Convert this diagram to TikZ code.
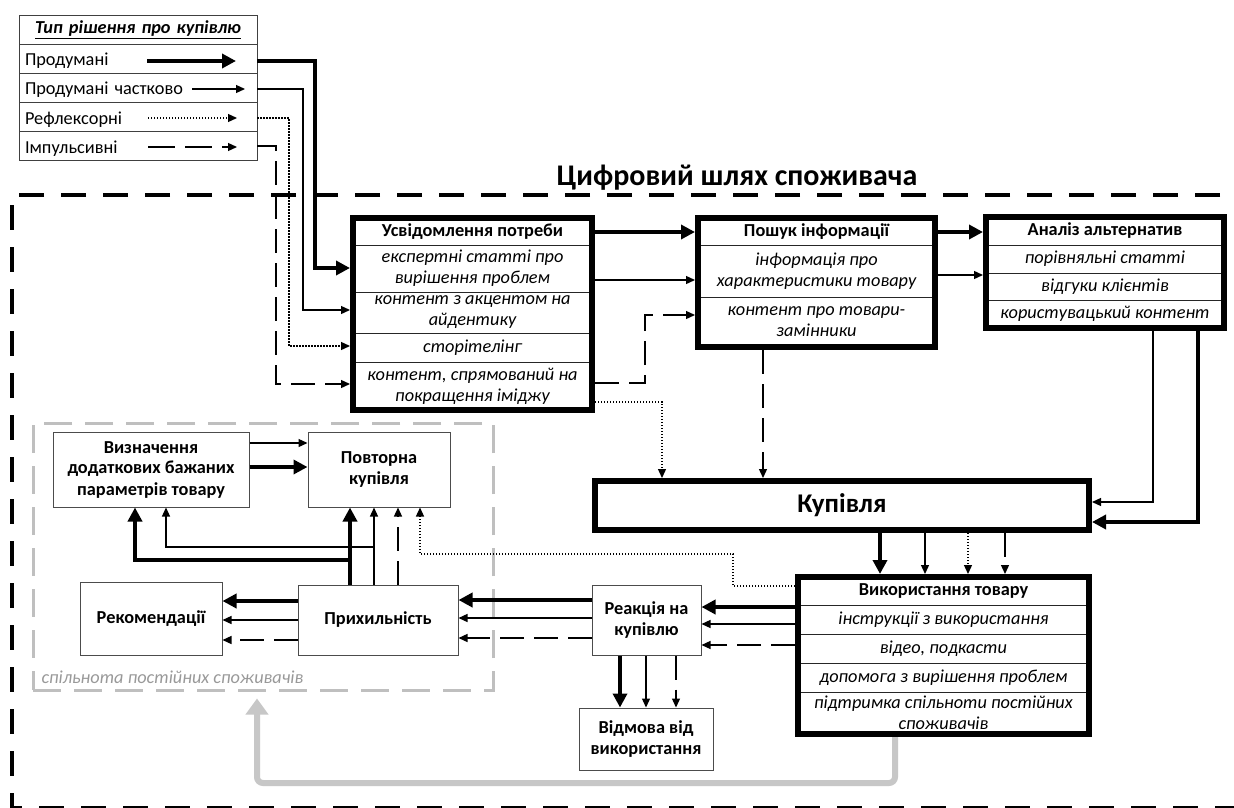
\documentclass[tikz,border=0pt]{standalone}
\usepackage{fontspec}
\setmainfont{Carlito}
\usetikzlibrary{arrows.meta}
\newcommand{\fsz}{\fontsize{18.3}{21}\selectfont}
\begin{document}
\begin{tikzpicture}[x=1pt,y=-1pt,
  rowb/.style={draw=black!85, line width=0.8pt, inner sep=0pt, align=center, font=\fsz\itshape},
  hdr/.style={rowb, font=\fsz\bfseries},
  bigbox/.style={draw, line width=6pt, inner sep=0pt},
  lbox/.style={draw=black!70, line width=1pt, inner sep=0pt, align=center, font=\fsz\bfseries},
  legrow/.style={draw=black!75, line width=0.8pt, inner sep=0pt, minimum width=238pt, minimum height=29pt, text width=226pt, align=left, font=\fsz},
  legtxt/.style={legrow, text height=17pt, text depth=2pt},
  thk/.style={line width=4pt, -{Triangle[length=14pt,width=14pt]}},
  thn/.style={line width=1.3pt, -{Triangle[length=9pt,width=8pt]}},
  dsh/.style={thn, dash pattern=on 24pt off 10pt},
  dtt/.style={thn, dash pattern=on 1.3pt off 1.7pt},
]
\useasboundingbox (0,0) rectangle (1234,808);
\fill[white] (0,0) rectangle (1234,808);
\clip (0,0) rectangle (1234,808);

% outer frame and title
\draw[line width=4pt, dash pattern=on 25pt off 17pt] (1262,195) -- (12,195) -- (12,808) -- (1262,808);
\node[font=\fontsize{30}{35}\selectfont\bfseries] (title) at (737,178) {Цифровий шлях споживача};

% community region
\node[draw=black!25, line width=3pt, dash pattern=on 28pt off 13pt, minimum width=460pt, minimum height=267pt, inner sep=0pt] (spil) at (263,556.5) {};
\node[anchor=west, font=\fsz\itshape, text=black!40] (spl) at (38,677) {спільнота постійних споживачів};

% legend
\node[legrow, align=center, font=\fsz\bfseries\itshape] (legT) at (138,29.5) {\underline{Тип рішення про купівлю}};
\node[legtxt] (leg1) at (138,58.5) {Продумані};
\node[legtxt] (leg2) at (138,87.5) {Продумані частково};
\node[legtxt] (leg3) at (138,116.5) {Рефлексорні};
\node[legtxt] (leg4) at (138,145.5) {Імпульсивні};
\draw[thk] (147,61) -- (236,61);
\draw[thn] (192,89) -- (245,89);
\draw[dtt] (148,118) -- (237,118);
\draw[dsh, dash pattern=on 27pt off 10pt] (148,147) -- (237,147);

% Усвідомлення потреби
\node[hdr, minimum width=239pt, minimum height=27pt] (u0) at (472.5,231.5) {Усвідомлення потреби};
\node[rowb, minimum width=239pt, minimum height=47pt] (u1) at (472.5,268.5) {експертні статті про\\вирішення проблем};
\node[rowb, minimum width=239pt, minimum height=41pt] (u2) at (472.5,312.5) {контент з акцентом на\\айдентику};
\node[rowb, minimum width=239pt, minimum height=29pt] (u3) at (472.5,347.5) {сторітелінг};
\node[rowb, minimum width=239pt, minimum height=48pt] (u4) at (472.5,386) {контент, спрямований на\\покращення іміджу};
\node[bigbox, minimum width=239pt, minimum height=192pt] (usv) at (472.5,314) {};

% Пошук інформації
\node[hdr, minimum width=237pt, minimum height=27pt] (p0) at (816.5,231.5) {Пошук інформації};
\node[rowb, minimum width=237pt, minimum height=52pt] (p1) at (816.5,271) {інформація про\\характеристики товару};
\node[rowb, minimum width=237pt, minimum height=50pt] (p2) at (816.5,322) {контент про товари-\\замінники};
\node[bigbox, minimum width=237pt, minimum height=129pt] (posh) at (816.5,282.5) {};

% Аналіз альтернатив
\node[hdr, minimum width=238pt, minimum height=28pt] (a0) at (1105,231) {Аналіз альтернатив};
\node[rowb, minimum width=238pt, minimum height=28pt] (a1) at (1105,259) {порівняльні статті};
\node[rowb, minimum width=238pt, minimum height=27pt] (a2) at (1105,286.5) {відгуки клієнтів};
\node[rowb, minimum width=238pt, minimum height=28pt] (a3) at (1105,314) {користувацький контент};
\node[bigbox, minimum width=238pt, minimum height=111pt] (anal) at (1105,272.5) {};

% Купівля
\node[bigbox, minimum width=494pt, minimum height=49pt, font=\fontsize{27}{31}\selectfont\bfseries] (kup) at (842,505.5) {Купівля};

% Використання товару
\node[hdr, minimum width=291pt, minimum height=28pt] (v0) at (943.5,591) {Використання товару};
\node[rowb, minimum width=291pt, minimum height=29pt] (v1) at (943.5,619.5) {інструкції з використання};
\node[rowb, minimum width=291pt, minimum height=29pt] (v2) at (943.5,648.5) {відео, подкасти};
\node[rowb, minimum width=291pt, minimum height=29pt] (v3) at (943.5,677.5) {допомога з вирішення проблем};
\node[rowb, minimum width=291pt, minimum height=42pt] (v4) at (943.5,713) {підтримка спільноти постійних\\споживачів};
\node[bigbox, minimum width=291pt, minimum height=157pt] (vyk) at (943.5,655.5) {};

% lower boxes
\node[lbox, minimum width=196pt, minimum height=75pt] (vyz) at (151,469.5) {Визначення\\додаткових бажаних\\параметрів товару};
\node[lbox, minimum width=142pt, minimum height=75pt] (povt) at (379,469.5) {Повторна\\купівля};
\node[lbox, minimum width=142pt, minimum height=73pt] (rek) at (151,618.5) {Рекомендації};
\node[lbox, minimum width=160pt, minimum height=70pt] (pryh) at (378,620) {Прихильність};
\node[lbox, minimum width=109pt, minimum height=70pt] (reak) at (646.5,620) {Реакція на\\купівлю};
\node[lbox, minimum width=134pt, minimum height=62pt] (vidm) at (646,739) {Відмова від\\використання};

% legend connectors
\draw[thk] (leg1.east |- 0,61) -| (315,268) -- (usv.west |- 0,268);
\draw[thn] (leg2.east |- 0,89) -| (303,310) -- (usv.west |- 0,310);
\draw[dtt] (leg3.east |- 0,118) -| (289,346) -- (usv.west |- 0,346);
\draw[dsh] (leg4.east |- 0,146) -| (276,384) -- (usv.west |- 0,384);

% Усвідомлення -> Пошук / Купівля
\draw[thk] (usv.east |- 0,232) -- (posh.west |- 0,232);
\draw[thn] (usv.east |- 0,280) -- (posh.west |- 0,280);
\draw[dsh] (usv.east |- 0,383) -| (645,315) -- (posh.west |- 0,315);
\draw[dtt] (usv.east |- 0,402) -| (kup.north -| 662,0);

% Пошук -> Аналіз / Купівля
\draw[thk] (posh.east |- 0,232) -- (anal.west |- 0,232);
\draw[thn] (posh.east |- 0,275) -- (anal.west |- 0,275);
\draw[dsh] (posh.south -| 763,0) -- (kup.north -| 763,0);

% Аналіз -> Купівля
\draw[thn] (anal.south -| 1153,0) |- (kup.east |- 0,502);
\draw[thk] (anal.south -| 1198,0) |- (kup.east |- 0,522);

% Купівля -> Використання
\draw[thk] (kup.south -| 880,0) -- (vyk.north -| 880,0);
\draw[thn] (kup.south -| 925,0) -- (vyk.north -| 925,0);
\draw[dtt] (kup.south -| 968,0) -- (vyk.north -| 968,0);
\draw[dsh] (kup.south -| 1005,0) -- (vyk.north -| 1005,0);

% Використання -> Реакція / Повторна
\draw[thk] (vyk.west |- 0,607) -- (reak.east |- 0,607);
\draw[thn] (vyk.west |- 0,624) -- (reak.east |- 0,624);
\draw[dsh] (vyk.west |- 0,645) -- (reak.east |- 0,645);
\draw[dtt] (vyk.west |- 0,586) -| (733,554) -| (povt.south -| 420,0);

% Реакція -> Прихильність
\draw[thk] (reak.west |- 0,600) -- (pryh.east |- 0,600);
\draw[thn] (reak.west |- 0,618) -- (pryh.east |- 0,618);
\draw[dsh] (reak.west |- 0,638) -- (pryh.east |- 0,638);

% Прихильність -> Рекомендації
\draw[thk] (pryh.west |- 0,601) -- (rek.east |- 0,601);
\draw[thn] (pryh.west |- 0,620) -- (rek.east |- 0,620);
\draw[dsh] (pryh.west |- 0,640) -- (rek.east |- 0,640);

% Прихильність -> Повторна / Визначення
\draw[thk] (pryh.north -| 350,0) -- (povt.south -| 350,0);
\draw[thn] (pryh.north -| 374,0) -- (povt.south -| 374,0);
\draw[dsh] (pryh.north -| 398,0) -- (povt.south -| 398,0);
\draw[thk] (pryh.north -| 350,0) |- (135,560) -- (vyz.south -| 135,0);
\draw[thn] (pryh.north -| 374,0) |- (166,547) -- (vyz.south -| 166,0);

% Визначення -> Повторна
\draw[thn] (vyz.east |- 0,443) -- (povt.west |- 0,443);
\draw[thk] (vyz.east |- 0,467) -- (povt.west |- 0,467);

% Реакція -> Відмова
\draw[thk] (reak.south -| 620,0) -- (vidm.north -| 620,0);
\draw[thn] (reak.south -| 646,0) -- (vidm.north -| 646,0);
\draw[dsh] (reak.south -| 676,0) -- (vidm.north -| 676,0);

% gray return arrow
\draw[line width=6pt, black!22, rounded corners=6pt, shorten >=7pt, -{Triangle[length=16pt,width=22pt]}] (vyk.south -| 895,0) |- (257,783) -- (spil.south -| 257,0);
\end{tikzpicture}
\end{document}
